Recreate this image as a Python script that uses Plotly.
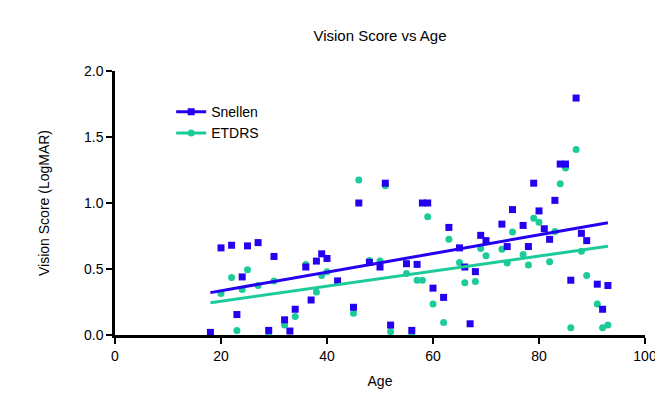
import plotly.graph_objects as go

snellen_age = [18, 20, 22, 23, 24, 25, 27, 29, 30, 32, 33, 34, 36, 37, 38, 39, 40, 42, 45, 46,
               48, 50, 51, 52, 55, 56, 57, 58, 59, 60, 62, 63, 65, 66, 67, 68, 69, 70, 73, 74,
               75, 77, 78, 79, 80, 81, 82, 83, 84, 85, 86, 87, 88, 89, 91, 92, 93]
snellen_score = [0.02, 0.66, 0.68, 0.155, 0.44, 0.675, 0.70, 0.035, 0.595, 0.115, 0.03, 0.195,
                 0.515, 0.265, 0.56, 0.615, 0.58, 0.41, 0.21, 1.0, 0.55, 0.515, 1.15, 0.075,
                 0.54, 0.035, 0.535, 1.0, 1.0, 0.355, 0.285, 0.815, 0.66, 0.515, 0.085, 0.48,
                 0.755, 0.715, 0.84, 0.67, 0.95, 0.83, 0.67, 1.15, 0.94, 0.805, 0.725, 1.02,
                 1.295, 1.295, 0.415, 1.795, 0.77, 0.715, 0.385, 0.195, 0.375]

etdrs_age = [18, 20, 22, 23, 24, 25, 27, 29, 30, 32, 34, 36, 38, 39, 40, 45, 46, 48, 50, 51,
             52, 55, 56, 57, 58, 59, 60, 62, 63, 65, 66, 68, 69, 70, 73, 74, 75, 77, 78, 79,
             80, 82, 83, 84, 85, 86, 87, 88, 89, 91, 92, 93]
etdrs_score = [0.0, 0.315, 0.435, 0.035, 0.345, 0.495, 0.375, 0.0, 0.41, 0.075, 0.14, 0.535,
               0.325, 0.45, 0.48, 0.165, 1.175, 0.565, 0.56, 1.13, 0.025, 0.465, 0.0, 0.415,
               0.415, 0.895, 0.235, 0.095, 0.725, 0.55, 0.395, 0.405, 0.655, 0.60, 0.65,
               0.545, 0.78, 0.61, 0.53, 0.885, 0.855, 0.555, 0.785, 1.145, 1.265, 0.055,
               1.405, 0.635, 0.45, 0.235, 0.055, 0.075]

fit_age = [18, 93]
snellen_fit = [0.321, 0.85]
etdrs_fit = [0.245, 0.672]

x_ticks = [0, 20, 40, 60, 80, 100]
y_ticks = [0.0, 0.5, 1.0, 1.5, 2.0]

BLUE = "#2400F0"
TEAL = "#1DCB9A"
FONT = "Liberation Sans, Arial, sans-serif"

fig = go.Figure()
fig.add_trace(go.Scatter(x=etdrs_age, y=etdrs_score, mode="markers", showlegend=False,
                         marker=dict(symbol="circle", size=7, color=TEAL, line=dict(width=0))))
fig.add_trace(go.Scatter(x=snellen_age, y=snellen_score, mode="markers", showlegend=False,
                         marker=dict(symbol="square", size=7, color=BLUE, line=dict(width=0))))
fig.add_trace(go.Scatter(x=fit_age, y=snellen_fit, mode="lines", showlegend=False,
                         line=dict(color=BLUE, width=3)))
fig.add_trace(go.Scatter(x=fit_age, y=etdrs_fit, mode="lines", showlegend=False,
                         line=dict(color=TEAL, width=3)))
fig.add_trace(go.Scatter(x=[None], y=[None], mode="lines+markers", name="Snellen",
                         line=dict(color=BLUE, width=3),
                         marker=dict(symbol="square", size=7, color=BLUE)))
fig.add_trace(go.Scatter(x=[None], y=[None], mode="lines+markers", name="ETDRS",
                         line=dict(color=TEAL, width=3),
                         marker=dict(symbol="circle", size=7, color=TEAL)))

fig.update_layout(
    width=663, height=399,
    margin=dict(l=107, r=26, t=63, b=72),
    paper_bgcolor="white", plot_bgcolor="white",
    font=dict(family=FONT, size=14, color="black"),
    title=dict(text="Vision Score vs Age", x=0.5, xref="paper", xanchor="center",
               y=1 - 28 / 399, yref="container", yanchor="middle",
               font=dict(family=FONT, size=15, color="black")),
    legend=dict(x=0.106, y=0.905, xanchor="left", yanchor="top",
                bgcolor="rgba(0,0,0,0)", font=dict(size=14), tracegroupgap=0,
                itemwidth=30),
    showlegend=True,
)
fig.update_xaxes(range=[0, 100], tickvals=x_ticks, ticktext=[str(v) for v in x_ticks],
                 showgrid=False, zeroline=False, showline=True, linecolor="black",
                 linewidth=2.5, ticks="outside", ticklen=6, tickwidth=2, tickcolor="black",
                 title=dict(text="Age", standoff=14, font=dict(size=14)),
                 tickfont=dict(size=14))
fig.update_yaxes(range=[0, 2], tickvals=y_ticks, ticktext=[f"{v:.1f}" for v in y_ticks],
                 showgrid=False, zeroline=False, showline=True, linecolor="black",
                 linewidth=2.5, ticks="outside", ticklen=6, tickwidth=2, tickcolor="black",
                 title=dict(text="Vision Score (LogMAR)", standoff=32, font=dict(size=14)),
                 tickfont=dict(size=14))

fig.write_html("out.html")
